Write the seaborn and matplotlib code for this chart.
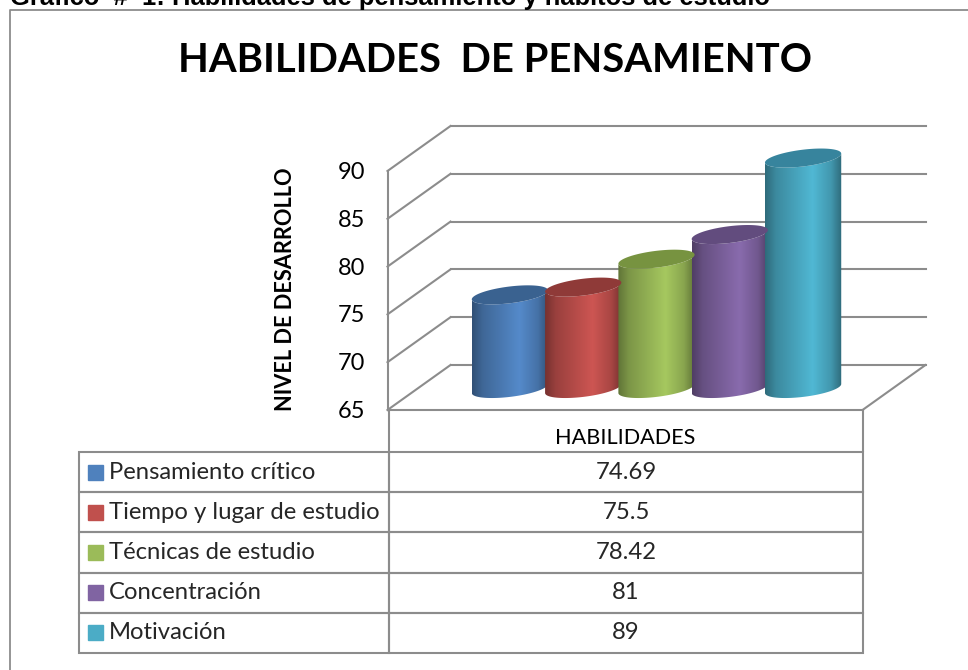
import numpy as np
import pandas as pd
import matplotlib.pyplot as plt
import seaborn as sns
from matplotlib.colors import to_rgb
from matplotlib.patches import Polygon, Rectangle
from matplotlib.transforms import Affine2D

# Chart values
categories = ['Pensamiento crítico', 'Tiempo y lugar de estudio', 'Técnicas de estudio',
              'Concentración', 'Motivación']
values = [74.69, 75.5, 78.42, 81, 89]
y_ticks = [65, 70, 75, 80, 85, 90]
colors = ['#4f81bd', '#c0504d', '#9bbb59', '#8064a2', '#4bacc6']
top_colors = ['#3a6290', '#8f3a38', '#779340', '#624c7e', '#37849d']

chart_title = 'HABILIDADES  DE PENSAMIENTO'
caption = 'Gráfico  #  1: Habilidades de pensamiento y hábitos de estudio'
y_label = 'NIVEL DE DESARROLLO'
x_label = 'HABILIDADES'

GRAY = '#8c8c8c'
W, H = 968, 670

sns.set_theme(style='white')
plt.rcParams['font.family'] = ['Lato', 'DejaVu Sans']

df = pd.DataFrame({'habilidad': categories, 'nivel': values})

fig = plt.figure(figsize=(W / 100, H / 100), dpi=100)

# Page layer in pixel coordinates: frame, titles and the data table
page = fig.add_axes([0, 0, 1, 1])
page.set_xlim(0, W)
page.set_ylim(H, 0)
page.set_axis_off()
page.plot([10, 10, W], [H, 10, 10], color=GRAY, lw=1.3, clip_on=False)
page.text(10, 5, caption, fontsize=18.4, fontweight='bold', family='Liberation Sans',
          color='black', va='baseline')
page.text(495, 61, chart_title, fontsize=28.8, fontweight='bold', color='black',
          ha='center', va='center')
page.text(285, 289.5, y_label, fontsize=15.7, fontweight='bold', color='black',
          rotation=90, ha='center', va='center')

# Data table under the chart
rows = [['', '']] + [[c, f'{v:g}'] for c, v in zip(categories, values)]
table = page.table(cellText=rows, colWidths=[310 / 784, 474 / 784], cellLoc='center',
                   bbox=[79 / W, 1 - 653 / H, 784 / W, 243 / H])
table.auto_set_font_size(False)
table.set_fontsize(17.2)
for (r, c), cell in table.get_celld().items():
    cell.set_edgecolor(GRAY)
    cell.set_linewidth(1.5)
    cell.set_facecolor('none')
    cell.set_height(42 if r == 0 else 40.2)
    if c == 0:
        cell.get_text().set_ha('left')
        cell.PAD = 30 / 310
    if r == 0:
        cell.visible_edges = 'R' if c == 0 else 'LR'
        if c == 0:
            cell.set_edgecolor('none')
page.text(625, 438, x_label, fontsize=15.6, color='black', ha='center', va='center')
for i, color in enumerate(colors):
    page.add_patch(Rectangle((88, 464.5 + i * 40.2), 15, 15, color=color, zorder=5))

# Chart layer: its plane runs through the middle of the 3D box
ax = fig.add_axes([419 / W, 1 - 387.5 / H, 475 / W, 239 / H])
ax.patch.set_alpha(0)
sns.barplot(data=df, x='habilidad', y='nivel', hue='habilidad', palette=colors,
            width=1.04, legend=False, dodge=False, ax=ax)
xmin, xmax = -1.24, 5.24
ax.set_xlim(xmin, xmax)
ax.set_ylim(y_ticks[0], y_ticks[-1])
ax.set_axis_off()

DX, DY = 31.5, 22.5
front = ax.transData + Affine2D().translate(-DX, -DY)
back = ax.transData + Affine2D().translate(DX, DY)
line_kw = dict(color=GRAY, lw=1.5, clip_on=False, zorder=0.5, solid_capstyle='projecting')

# Back wall, side wall and floor
for v in y_ticks:
    ax.plot([xmin, xmax], [v, v], transform=back, **line_kw)
    x_a, y_a = front.transform((xmin, v))
    x_b, y_b = back.transform((xmin, v))
    (x_a, y_a), (x_b, y_b) = ax.transData.inverted().transform([(x_a, y_a), (x_b, y_b)])
    ax.plot([x_a, x_b], [y_a, y_b], **line_kw)
    ax.text(xmin, v, str(v), transform=front + Affine2D().translate(-22, -1.5), fontsize=17,
            color='black', ha='right', va='center', clip_on=False)
ax.plot([xmin, xmin], y_ticks[0:1] + y_ticks[-1:], transform=front, **line_kw)
ax.plot([xmin, xmax], [y_ticks[0]] * 2, transform=front, **line_kw)
(fx, fy), (bx, by) = ax.transData.inverted().transform(
    [front.transform((xmax, y_ticks[0])), back.transform((xmax, y_ticks[0]))])
ax.plot([fx, bx], [fy, by], **line_kw)

# Turn the flat seaborn bars into shaded cylinders
unit_y = 239 / (y_ticks[-1] - y_ticks[0])
ell_b = 8.4 / unit_y
ell_s = 4.5 / unit_y
t = np.linspace(0, 2 * np.pi, 121)
lower = t[(t >= np.pi) & (t <= 2 * np.pi)]
shade_pos = [0, 0.14, 0.62, 0.86, 1]
shade_val = [0.62, 0.80, 1.07, 0.88, 0.62]
base_y = y_ticks[0] - 1 / unit_y

bars = sorted(ax.patches, key=lambda p: p.get_x())
for bar, color, top_color in zip(bars, colors, top_colors):
    x0, w, top = bar.get_x(), bar.get_width(), bar.get_height()
    cx = x0 + w / 2
    bar.set_visible(False)

    def rim(angles, level):
        return np.column_stack([cx + w / 2 * np.cos(angles),
                                level + ell_b * np.sin(angles) + ell_s * np.cos(angles)])

    outline = np.vstack([rim(lower, base_y), rim(np.array([0.0]), top),
                         rim(np.linspace(0, -np.pi, 60), top)])
    body = Polygon(outline, closed=True, transform=ax.transData, fc='none', ec='none')
    ax.add_patch(body)

    ramp = np.linspace(0, 1, 160)
    shade = np.interp(ramp, shade_pos, shade_val)
    grad = np.clip(np.outer(shade, to_rgb(color)), 0, 1)[np.newaxis, :, :]
    im = ax.imshow(grad, extent=[x0, x0 + w, y_ticks[0] - 3, top + 3], aspect='auto',
                   interpolation='bilinear', zorder=2)
    im.set_clip_path(body)
    im.set_clip_box(fig.bbox)
    ax.add_patch(Polygon(rim(t, top), closed=True, fc=top_color, ec='none', zorder=2.1,
                         clip_on=False))

ax.set_xlim(xmin, xmax)
ax.set_ylim(y_ticks[0], y_ticks[-1])

fig.savefig('out.png', dpi=100)
plt.close('all')
